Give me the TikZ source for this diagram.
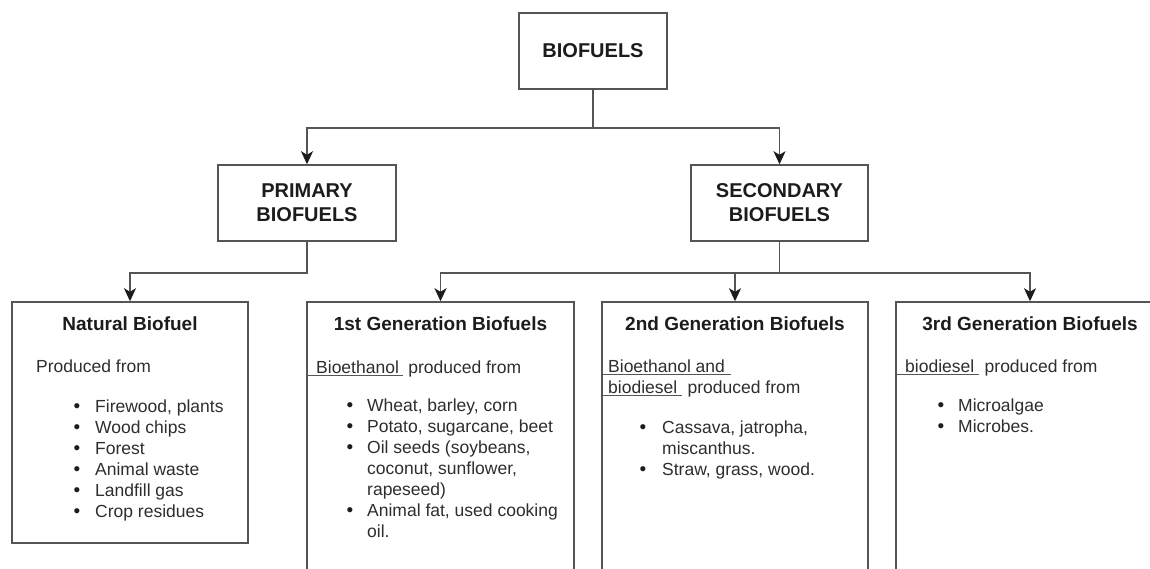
\documentclass[tikz,border=0pt]{standalone}
\usepackage{fontspec}
\setmainfont{Liberation Sans}
\usetikzlibrary{arrows.meta,calc}
\definecolor{edge}{HTML}{555555}
\definecolor{ink}{HTML}{1C1C1C}
\definecolor{txt}{HTML}{2E2E2E}

\begin{document}
\begin{tikzpicture}[x=1pt,y=-1pt,
  box/.style={draw=edge, line width=1.5pt, fill=white, inner sep=0pt, align=center},
  capsbox/.style={box, font=\fontsize{20}{24}\selectfont\bfseries, text=ink},
  conn/.style={draw=edge, line width=1.5pt, -{Stealth[length=13pt,width=12pt,inset=3.5pt,color=ink]}},
  title/.style={font=\fontsize{19}{23}\selectfont\bfseries, text=ink, anchor=base, inner sep=0pt},
  body/.style={font=\fontsize{17.5}{21}\selectfont, text=txt, anchor=base west, inner sep=0pt},
  dot/.style={font=\fontsize{19}{21}\selectfont, text=ink, anchor=base, inner sep=0pt},
  uline/.style={draw=edge, line width=1pt}]

\useasboundingbox (0,0) rectangle (1150,568);
\clip (0,0) rectangle (1150,568);
\fill[white] (0,0) rectangle (1150,568);

% upper levels
\node[capsbox, minimum width=148pt, minimum height=76pt] (bio) at (593,51) {BIOFUELS};
\node[capsbox, minimum width=178pt, minimum height=76pt] (prim) at (307,203) {PRIMARY\\BIOFUELS};
\node[capsbox, minimum width=177pt, minimum height=76pt] (sec) at (779.5,203) {SECONDARY\\BIOFUELS};

% lower boxes (the generation boxes run past the bottom edge)
\node[box, minimum width=236pt, minimum height=241pt] (nat) at (130,422.5) {};
\node[box, minimum width=267pt, minimum height=318pt] (gen1) at (440.5,461) {};
\node[box, minimum width=266pt, minimum height=318pt] (gen2) at (735,461) {};
\node[box, minimum width=268pt, minimum height=318pt] (gen3) at (1030,461) {};

% connectors
\draw[conn] (bio.south) -- ++(0,38) -| (prim.north);
\draw[conn] (bio.south) -- ++(0,38) -| (sec.north);
\draw[conn] (prim.south) -- ++(0,31) -| (nat.north);
\draw[conn] (sec.south) -- ++(0,31) -| (gen1.north);
\draw[conn] (sec.south) -- ++(0,31) -| (gen2.north);
\draw[conn] (sec.south) -- ++(0,31) -| (gen3.north);

% Natural Biofuel
\node[title] (natT) at (130,330) {Natural Biofuel};
\node[body] (natP) at (36,372) {Produced from};
\foreach [count=\i] \t in {{Firewood, plants},{Wood chips},{Forest},{Animal waste},{Landfill gas},{Crop residues}} {
  \node[dot] (natd-\i) at (77,{391+21*\i}) {•};
  \node[body] (nat-\i) at (95,{391+21*\i}) {\t};
}

% 1st generation
\node[title] (g1T) at (440.5,330) {1st Generation Biofuels};
\node[body] (g1w) at (316,373) {Bioethanol};
\node[body] (g1p) at ([xshift=9pt]g1w.base east) {produced from};
\draw[uline] ($(gen1.west |- g1w.base)+(0,2.5)$) -- ($(g1w.base east)+(4,2.5)$);
\node[dot] (g1d-1) at (350,411) {•};
\node[body] (g1-1) at (367,411) {Wheat, barley, corn};
\node[dot] (g1d-2) at (350,432) {•};
\node[body] (g1-2) at (367,432) {Potato, sugarcane, beet};
\node[dot] (g1d-3) at (350,453) {•};
\node[body] (g1-3) at (367,453) {Oil seeds (soybeans,};
\node[body] (g1-3b) at (367,474) {coconut, sunflower,};
\node[body] (g1-3c) at (367,495) {rapeseed)};
\node[dot] (g1d-4) at (350,516) {•};
\node[body] (g1-4) at (367,516) {Animal fat, used cooking};
\node[body] (g1-4b) at (367,537) {oil.};

% 2nd generation
\node[title] (g2T) at (735,330) {2nd Generation Biofuels};
\node[body] (g2w) at (608,372) {Bioethanol and};
\node[body] (g2v) at (608,393) {biodiesel};
\node[body] (g2p) at ([xshift=10pt]g2v.base east) {produced from};
\draw[uline] ($(gen2.west |- g2w.base)+(0,2.5)$) -- ($(g2w.base east)+(6,2.5)$);
\draw[uline] ($(gen2.west |- g2v.base)+(0,2.5)$) -- ($(g2v.base east)+(5,2.5)$);
\node[dot] (g2d-1) at (643,433) {•};
\node[body] (g2-1) at (662,433) {Cassava, jatropha,};
\node[body] (g2-1b) at (662,454) {miscanthus.};
\node[dot] (g2d-2) at (643,475) {•};
\node[body] (g2-2) at (662,475) {Straw, grass, wood.};

% 3rd generation
\node[title] (g3T) at (1030,330) {3rd Generation Biofuels};
\node[body] (g3w) at (905,372) {biodiesel};
\node[body] (g3p) at ([xshift=10pt]g3w.base east) {produced from};
\draw[uline] ($(gen3.west |- g3w.base)+(0,2.5)$) -- ($(g3w.base east)+(5,2.5)$);
\node[dot] (g3d-1) at (941,411) {•};
\node[body] (g3-1) at (958,411) {Microalgae};
\node[dot] (g3d-2) at (941,432) {•};
\node[body] (g3-2) at (958,432) {Microbes.};
\end{tikzpicture}
\end{document}
